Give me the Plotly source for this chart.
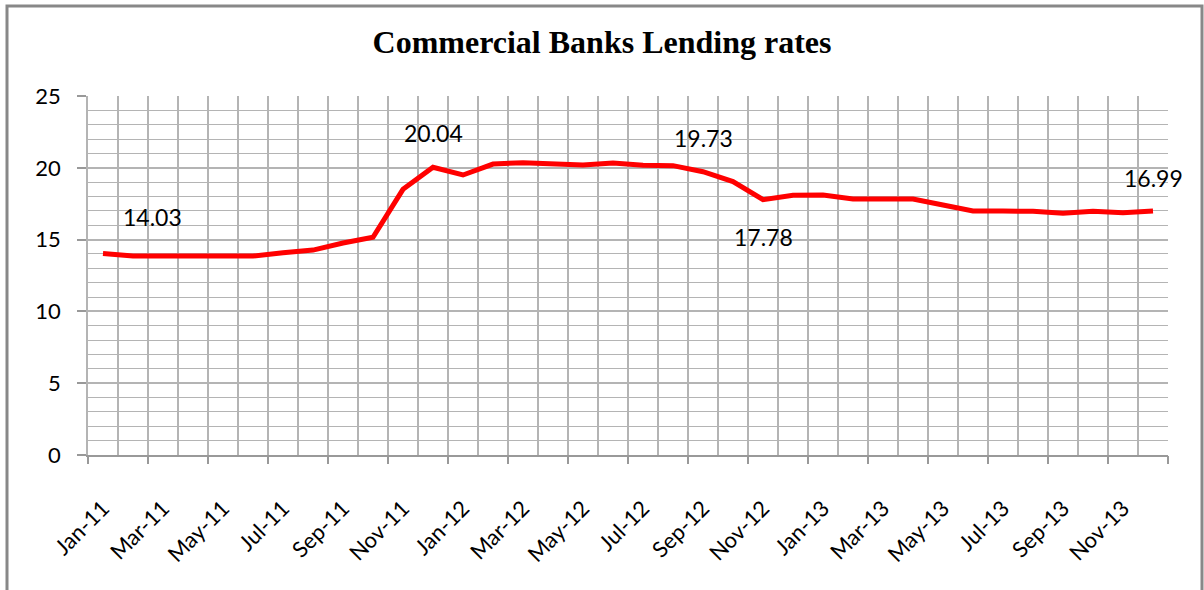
import plotly.graph_objects as go

months = ["Jan-11","Feb-11","Mar-11","Apr-11","May-11","Jun-11","Jul-11","Aug-11","Sep-11","Oct-11","Nov-11","Dec-11",
          "Jan-12","Feb-12","Mar-12","Apr-12","May-12","Jun-12","Jul-12","Aug-12","Sep-12","Oct-12","Nov-12","Dec-12",
          "Jan-13","Feb-13","Mar-13","Apr-13","May-13","Jun-13","Jul-13","Aug-13","Sep-13","Oct-13","Nov-13","Dec-13"]
rates = [14.03, 13.86, 13.85, 13.85, 13.85, 13.85, 14.08, 14.27, 14.76, 15.16, 18.50, 20.04,
         19.50, 20.26, 20.36, 20.30, 20.19, 20.33, 20.17, 20.15, 19.73, 19.04, 17.78, 18.08,
         18.10, 17.83, 17.80, 17.83, 17.41, 17.00, 16.99, 16.97, 16.83, 16.97, 16.87, 16.99]
labelled = {0: (49, 37), 11: (0, 34), 20: (0, 34), 22: (0, -37), 35: (0, 33)}

idx = list(range(len(months)))
grid = "#b4b4b4"
tickfont = dict(family="Lato, Open Sans, sans-serif", size=22, color="#000")

fig = go.Figure()
fig.add_trace(go.Scatter(x=idx, y=rates, mode="lines",
                         line=dict(color="#ff0000", width=5), hoverinfo="skip", showlegend=False))
# dummy trace for the overlay axis carrying tick marks
fig.add_trace(go.Scatter(x=[idx[0]], y=[rates[0]], xaxis="x2", mode="markers",
                         marker=dict(opacity=0), showlegend=False, hoverinfo="skip"))

for i, (dx, dy) in labelled.items():
    fig.add_annotation(x=i, y=rates[i], text=f"{rates[i]:.2f}", showarrow=False,
                       xshift=dx, yshift=dy, font=dict(family="Lato, Open Sans, sans-serif", size=23, color="#000"))

n = len(months)
fig.update_layout(
    width=1204, height=590,
    margin=dict(l=88, r=36, t=96, b=135),
    paper_bgcolor="white", plot_bgcolor="white",
    title=dict(text="<b>Commercial Banks Lending rates</b>", x=0.5, xref="container",
               y=1 - 42/590, yanchor="middle",
               font=dict(family="Liberation Serif, Times New Roman, serif", size=32, color="#000")),
    xaxis=dict(range=[-0.5, n - 0.5], tickmode="array", tickvals=idx[::2], ticktext=months[::2],
               tickangle=-45, ticks="", showgrid=False, tickfont=tickfont, ticklabelstandoff=30,
               showline=True, linecolor="#999", linewidth=1.5, zeroline=False,
               minor=dict(tick0=-0.5, dtick=1, showgrid=True, gridcolor=grid, gridwidth=1.5, ticks="")),
    xaxis2=dict(range=[-0.5, n - 0.5], overlaying="x", anchor="y", side="bottom",
                tickmode="array", tickvals=[i - 0.5 for i in idx[::2]] + [n - 0.5],
                ticks="outside", ticklen=8, tickcolor="#999", tickwidth=1.5,
                showticklabels=False, showgrid=False, zeroline=False),
    yaxis=dict(range=[0, 25], dtick=5, ticks="outside", ticklen=9, tickcolor="#999", tickwidth=1.5,
               showgrid=True, gridcolor=grid, gridwidth=1.5, zeroline=False, ticklabelstandoff=12,
               showline=True, linecolor=grid, linewidth=1.5, tickfont=tickfont,
               minor=dict(dtick=1, showgrid=True, gridcolor=grid, gridwidth=1.2, ticks="")),
)

# chart-area border
W, Hp = 1080, 359
fig.add_shape(type="rect", xref="paper", yref="paper",
              x0=(7 - 88) / W, x1=(1202 - 88) / W, y0=(455 - 600) / Hp, y1=1 + (96 - 6) / Hp,
              line=dict(color="#888", width=3), fillcolor="rgba(0,0,0,0)", layer="below")

fig.write_html("out.html")
